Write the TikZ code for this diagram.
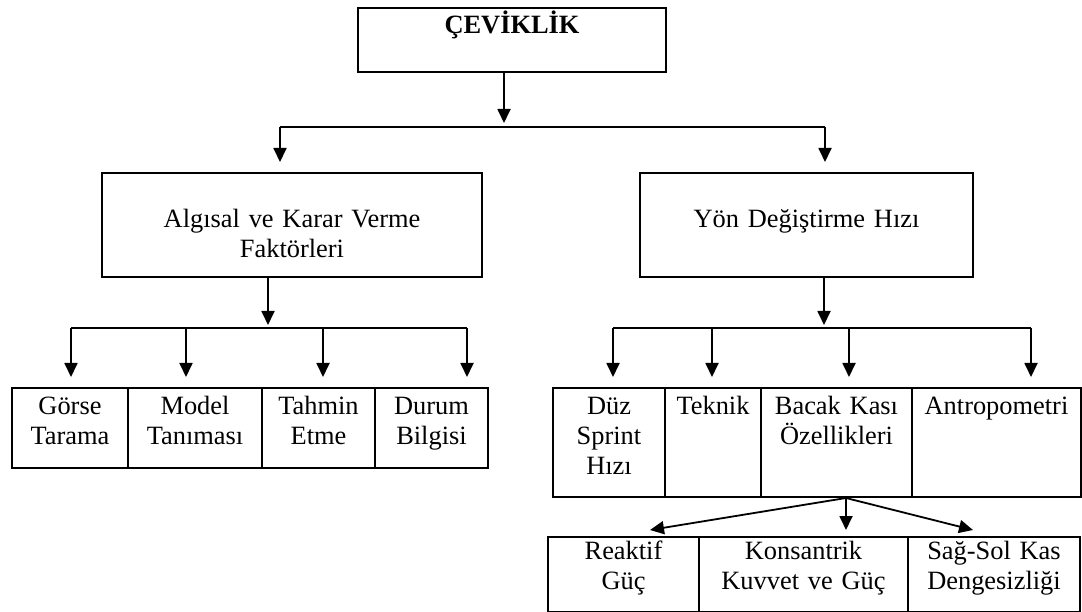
\documentclass[tikz,border=0pt]{standalone}
\usepackage{fontspec}
\setmainfont{Liberation Serif}
\usetikzlibrary{arrows.meta}

\begin{document}
\begin{tikzpicture}[x=1pt,y=-1pt,line width=1.8pt,
    box/.style={draw,line width=2pt,inner sep=0pt,anchor=north west,align=center,
      font=\fontsize{26.4}{30}\selectfont},
    head/.style={box,text height=26pt,text depth=38pt},
    mid/.style={box,text height=55pt,text depth=49pt},
    leftrow/.style={box,text height=26pt,text depth=54pt},
    rightrow/.style={box,text height=26pt,text depth=83pt},
    subrow/.style={box,text height=22pt,text depth=53pt},
    arr/.style={-{Triangle[length=14pt,width=13pt]}},
    bar/.style={line width=1.5pt}]
\useasboundingbox (0,0) rectangle (1082,612);

\node[head,text width=308pt] (cev) at (357,7) {\textbf{ÇEVİKLİK}};
\node[mid,text width=380pt] (alg) at (101,172) {Algısal ve Karar Verme\\Faktörleri};
\node[mid,text width=333pt] (yon) at (639,172) {Yön Değiştirme Hızı};

% left row
\node[leftrow,text width=116pt] (gor) at (11,387) {Görse\\Tarama};
\node[leftrow,text width=134pt] (mod) at (127,387) {Model\\Tanıması};
\node[leftrow,text width=113pt] (tah) at (261,387) {Tahmin\\Etme};
\node[leftrow,text width=113pt] (dur) at (374,387) {Durum\\Bilgisi};

% right row
\node[rightrow,text width=112pt] (duz) at (552,387) {Düz\\Sprint\\Hızı};
\node[rightrow,text width=96pt] (tek) at (664,387) {Teknik};
\node[rightrow,text width=151pt] (bac) at (760,387) {Bacak Kası\\Özellikleri};
\node[rightrow,text width=169pt] (ant) at (911,387) {Antropometri};

% under Bacak Kasi
\node[subrow,text width=151pt] (rea) at (547,536) {Reaktif\\Güç};
\node[subrow,text width=209pt] (kon) at (698,536) {Konsantrik\\Kuvvet ve Güç};
\node[subrow,text width=172pt] (sag) at (907,536) {Sağ-Sol Kas\\Dengesizliği};

% first level
\coordinate (a0) at (504,127);
\coordinate (a1) at (280,127);
\coordinate (a2) at (825,127);
\draw[arr,shorten >=4pt] (cev.south -| a0) -- (a0);
\draw[bar] (a1) -- (a2);
\draw[arr,shorten >=10pt] (a1) -- (a1 |- alg.north);
\draw[arr,shorten >=10pt] (a2) -- (a2 |- yon.north);

% second level, left
\coordinate (b0) at (268,328);
\coordinate (b1) at (71,328);
\coordinate (b2) at (186,328);
\coordinate (b3) at (323,328);
\coordinate (b4) at (467,328);
\draw[arr,shorten >=3pt] (alg.south -| b0) -- (b0);
\draw[bar] (b1) -- (b4);
\foreach \c/\n in {b1/gor,b2/mod,b3/tah,b4/dur}
  \draw[arr,shorten >=10pt] (\c) -- (\c |- \n.north);

% second level, right
\coordinate (c0) at (824,328);
\coordinate (c1) at (613,328);
\coordinate (c2) at (712,328);
\coordinate (c3) at (849,328);
\coordinate (c4) at (1031,328);
\draw[arr,shorten >=3pt] (yon.south -| c0) -- (c0);
\draw[bar] (c1) -- (c4);
\foreach \c/\n in {c1/duz,c2/tek,c3/bac,c4/ant}
  \draw[arr,shorten >=10pt] (\c) -- (\c |- \n.north);

% third level
\coordinate (d0) at (846,496);
\coordinate (d1) at (650,530);
\coordinate (d3) at (973,530);
\draw[arr] (bac.south -| d0) -- (d1);
\draw[arr,shorten >=6pt] (bac.south -| d0) -- (d0 |- kon.north);
\draw[arr] (bac.south -| d0) -- (d3);
\end{tikzpicture}
\end{document}
